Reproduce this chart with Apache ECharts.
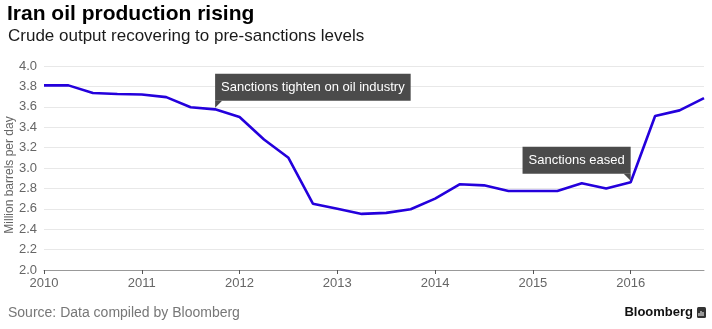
<!DOCTYPE html>
<html>
<head>
<meta charset="utf-8">
<script src="https://cdn.jsdelivr.net/npm/echarts@6/dist/echarts.min.js"></script>
<style>
html,body{margin:0;padding:0;background:#fff;}
#chart{width:712px;height:329px;}
</style>
</head>
<body>
<div id="chart"></div>
<script>
var titleText = 'Iran oil production rising';
var subtitleText = 'Crude output recovering to pre-sanctions levels';
var yAxisName = 'Million barrels per day';
var sourceText = 'Source: Data compiled by Bloomberg';
var brandText = 'Bloomberg';

// quarterly time points (decimal years)
var times = [2010.0, 2010.25, 2010.5, 2010.75, 2011.0, 2011.25, 2011.5, 2011.75,
             2012.0, 2012.25, 2012.5, 2012.75, 2013.0, 2013.25, 2013.5, 2013.75,
             2014.0, 2014.25, 2014.5, 2014.75, 2015.0, 2015.25, 2015.5, 2015.75,
             2016.0, 2016.25, 2016.5, 2016.75];
// million barrels per day
var production = [3.81, 3.81, 3.735, 3.725, 3.72, 3.695, 3.595, 3.575,
                  3.50, 3.28, 3.10, 2.65, 2.60, 2.55, 2.56, 2.595,
                  2.70, 2.84, 2.83, 2.775, 2.775, 2.775, 2.85, 2.80,
                  2.86, 3.51, 3.565, 3.685];

var annotationTexts = ['Sanctions tighten on oil industry', 'Sanctions eased'];
var annotationTimes = [2011.75, 2016.0];
var annotationValues = [3.575, 2.86];

var FONT = '"Liberation Sans", Arial, Helvetica, sans-serif';

var seriesData = times.map(function (t, i) { return [t, production[i]]; });

var labelBase = {
  show: true,
  color: '#ffffff',
  backgroundColor: '#4b4b4b',
  fontFamily: FONT,
  fontSize: 13,
  lineHeight: 15,
  padding: [6, 6, 6, 6],
  verticalAlign: 'bottom'
};

var chart = echarts.init(document.getElementById('chart'), null, {renderer: 'canvas'});
chart.setOption({
  animation: false,
  backgroundColor: '#ffffff',
  title: [
    {text: titleText, left: 7, top: 4, padding: 0,
     textStyle: {fontFamily: FONT, fontSize: 21, fontWeight: 'bold', color: '#000000'}},
    {text: subtitleText, left: 8, top: 28, padding: 0,
     textStyle: {fontFamily: FONT, fontSize: 17, fontWeight: 'normal', color: '#1a1a1a'}}
  ],
  grid: {left: 44, right: 8, top: 66, bottom: 59, containLabel: false, outerBoundsMode: 'none'},
  xAxis: {
    type: 'value',
    min: 2010, max: 2016.75, interval: 1,
    axisLine: {show: true, lineStyle: {color: '#999999', width: 1}},
    axisTick: {show: true, length: 4, lineStyle: {color: '#555555'}},
    axisLabel: {
      color: '#666666', fontFamily: FONT, fontSize: 13, margin: 7,
      showMaxLabel: false,
      formatter: function (v) { return String(Math.round(v)); }
    },
    splitLine: {show: false}
  },
  yAxis: {
    type: 'value',
    min: 2.0, max: 4.0, interval: 0.2,
    name: yAxisName,
    nameLocation: 'middle',
    nameGap: 28,
    nameMoveOverlap: false,
    nameTextStyle: {color: '#666666', fontFamily: FONT, fontSize: 12, padding: [0, 14, 0, 0]},
    axisLine: {show: false},
    axisTick: {show: false},
    axisLabel: {
      color: '#666666', fontFamily: FONT, fontSize: 13, margin: 7,
      formatter: function (v) { return v.toFixed(1); }
    },
    splitLine: {show: true, lineStyle: {color: '#e8e8e8', width: 1}}
  },
  series: [{
    type: 'line',
    data: seriesData,
    showSymbol: false,
    symbol: 'none',
    lineStyle: {color: '#2400dc', width: 2.6},
    itemStyle: {color: '#2400dc'},
    z: 3,
    markPoint: {
      silent: true,
      z: 5,
      data: [
        {
          coord: [annotationTimes[0], annotationValues[0]],
          symbol: 'path://M0,0L10,0L0,10Z',
          symbolSize: [7, 7],
          symbolOffset: [3.5, -5],
          itemStyle: {color: '#4b4b4b'},
          label: Object.assign({}, labelBase, {
            formatter: annotationTexts[0], position: [0, 0], align: 'left'
          })
        },
        {
          coord: [annotationTimes[1], annotationValues[1]],
          symbol: 'path://M0,0L10,0L10,10Z',
          symbolSize: [7, 7],
          symbolOffset: [-3.5, -5],
          itemStyle: {color: '#4b4b4b'},
          label: Object.assign({}, labelBase, {
            formatter: annotationTexts[1], position: ['100%', 0], align: 'right'
          })
        }
      ]
    }
  }],
  graphic: [
    {type: 'text', left: 8, top: 306,
     style: {text: sourceText, fill: '#777777', font: '14px ' + FONT}},
    {type: 'text', right: 19, top: 306,
     style: {text: brandText, fill: '#111111', font: 'bold 13px ' + FONT}},
    {type: 'rect', right: 6, top: 307,
     shape: {width: 9, height: 11, r: 1.5}, style: {fill: '#333333'}},
    {type: 'rect', left: 698.5, top: 313, shape: {width: 1, height: 3}, style: {fill: '#ffffff'}},
    {type: 'rect', left: 700.5, top: 311, shape: {width: 1, height: 5}, style: {fill: '#ffffff'}},
    {type: 'rect', left: 702.5, top: 312, shape: {width: 1, height: 4}, style: {fill: '#ffffff'}}
  ]
});
</script>
</body>
</html>
